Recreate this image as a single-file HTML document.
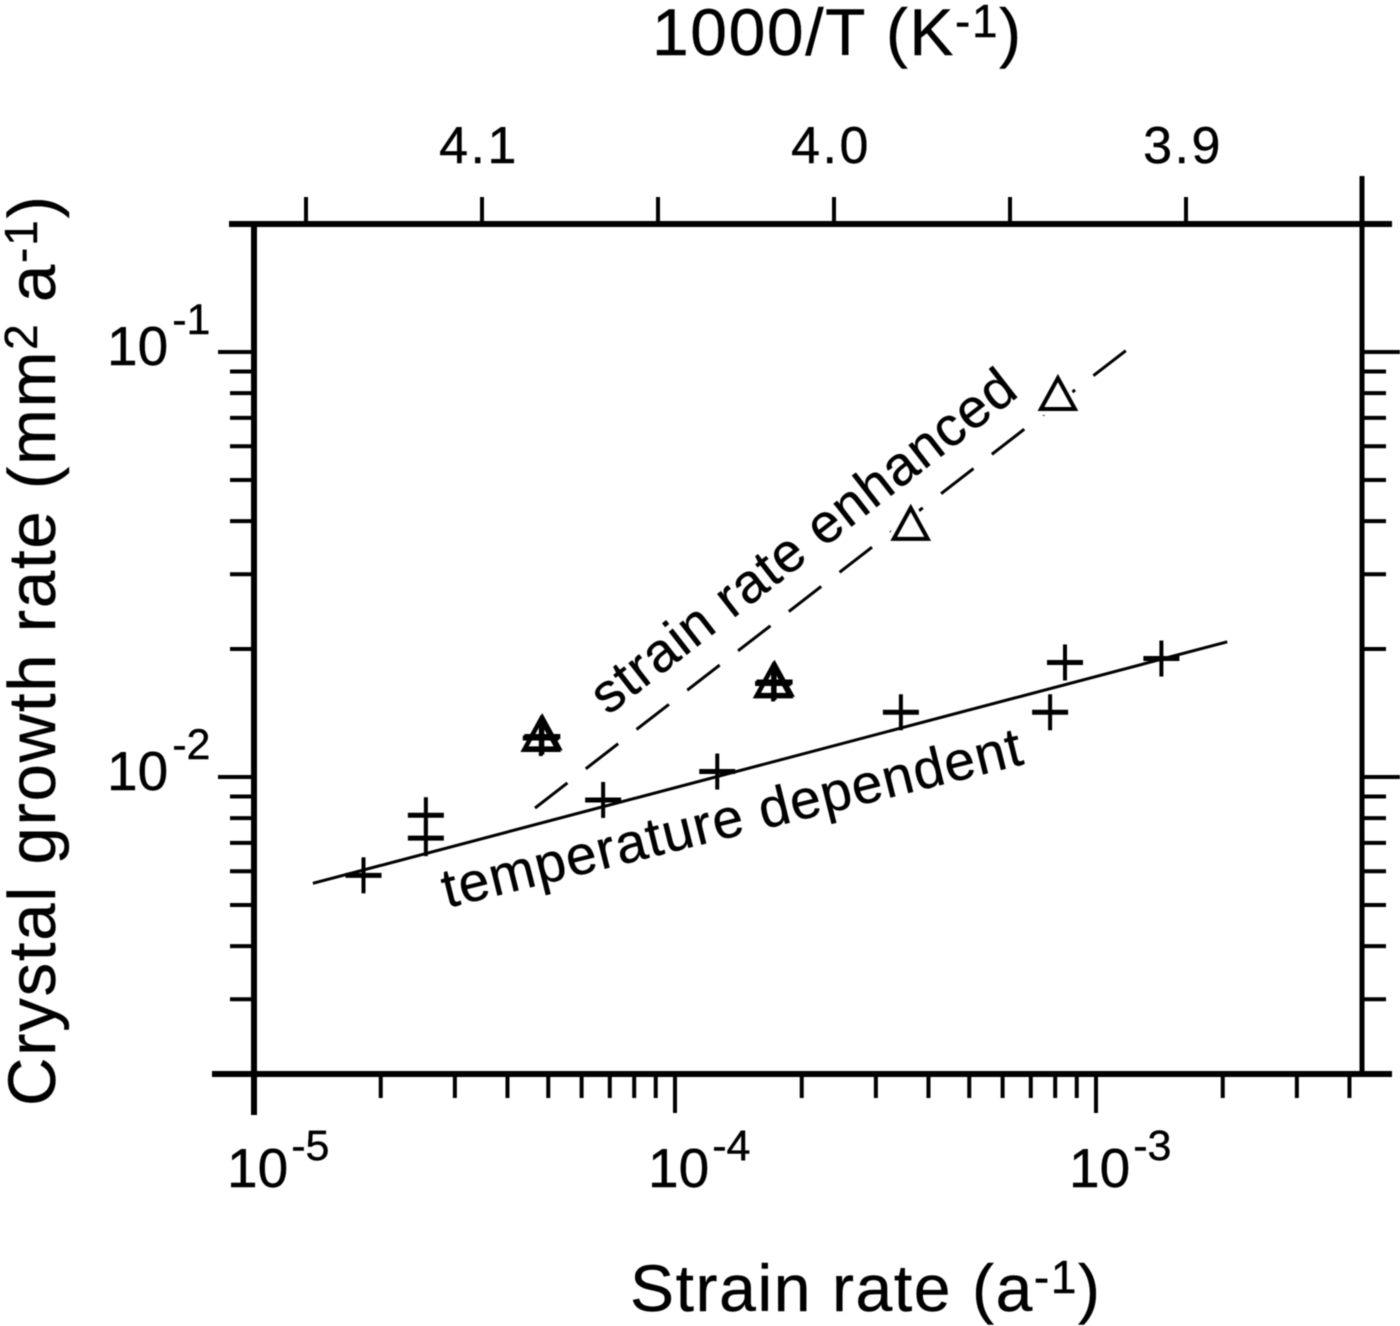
<!DOCTYPE html>
<html>
<head>
<meta charset="utf-8">
<title>Crystal growth rate vs strain rate</title>
<style>
html,body{margin:0;padding:0;background:#fff;}
#chart{display:block;width:1400px;height:1326px;filter:blur(0.6px);}
text{font-family:"Liberation Sans",sans-serif;fill:#000;stroke:#000;stroke-width:0.4px;}
</style>
</head>
<body>
<svg id="chart" xmlns="http://www.w3.org/2000/svg" width="1400" height="1326" viewBox="0 0 1400 1326">
  <rect x="0" y="0" width="1400" height="1326" fill="#fff"/>
  <g id="axes"></g>
  <g id="series"></g>
  <g id="labels">
    <text x="652" y="55" font-size="66" letter-spacing="1.6">1000/T (K<tspan font-size="46" dy="-18">-1</tspan><tspan dy="18">)</tspan></text>
    <text x="630" y="1311" font-size="66" letter-spacing="1.6">Strain rate (a<tspan font-size="46" dy="-18">-1</tspan><tspan dy="18">)</tspan></text>
    <text transform="translate(55,1106) rotate(-90)" font-size="67" letter-spacing="1.8">Crystal growth rate (mm<tspan font-size="46" dy="-18">2</tspan><tspan dy="18"> a</tspan><tspan font-size="46" dy="-18">-1</tspan><tspan dy="18">)</tspan></text>
    <text transform="translate(608,716) rotate(-37.9)" font-size="55" letter-spacing="1.1">strain rate enhanced</text>
    <text transform="translate(447,908) rotate(-14)" font-size="55" letter-spacing="1.2">temperature dependent</text>
  </g>
</svg>
<script>
// Data
const plusStrain  = [1.82e-5, 2.56e-5, 2.56e-5, 4.8e-5, 4.84e-5, 6.75e-5, 1.26e-4, 1.71e-4, 1.724e-4, 3.44e-4, 7.78e-4, 8.44e-4, 1.43e-3];
const plusGrowth  = [5.87e-3, 8.13e-3, 7.18e-3, 1.235e-2, 1.245e-2, 8.83e-3, 1.03e-2, 1.66e-2, 1.673e-2, 1.42e-2, 1.42e-2, 1.86e-2, 1.90e-2];
const triStrain   = [4.8e-5, 4.84e-5, 1.71e-4, 1.724e-4, 3.63e-4, 8.12e-4];
const triGrowth   = [1.249e-2, 1.26e-2, 1.67e-2, 1.683e-2, 3.92e-2, 7.92e-2];
const solidStrain = [1.38e-5, 2.05e-3];
const solidGrowth = [5.62e-3, 2.08e-2];
const dashStrain  = [4.65e-5, 1.19e-3];
const dashGrowth  = [8.45e-3, 1.016e-1];
const xMajorExponents = [-5, -4, -3];
const xMinorStrain = [2e-5,3e-5,4e-5,5e-5,6e-5,7e-5,8e-5,9e-5,2e-4,3e-4,4e-4,5e-4,6e-4,7e-4,8e-4,9e-4,2e-3,3e-3,4e-3];
const yMajorExponents = [-1, -2];
const yMinorGrowth = [9e-2,8e-2,7e-2,6e-2,5e-2,4e-2,3e-2,2e-2,9e-3,8e-3,7e-3,6e-3,5e-3,4e-3,3e-3];
const topTicks = [4.15, 4.1, 4.05, 4.0, 3.95, 3.9];
const topLabels = ["4.1", "4.0", "3.9"];

const NS = "http://www.w3.org/2000/svg";
const axes = document.getElementById("axes");
const series = document.getElementById("series");

function xScale(v){ return 254 + (Math.log10(v) + 5) * 421; }
function yScale(v){ return 777 - (Math.log10(v) + 2) * 425; }
function topScale(v){ return 834 + (4.0 - v) * 3520; }

function line(parent, x1, y1, x2, y2, w){
  const l = document.createElementNS(NS, "line");
  l.setAttribute("x1", x1);
  l.setAttribute("y1", y1);
  l.setAttribute("x2", x2);
  l.setAttribute("y2", y2);
  l.setAttribute("stroke", "#000");
  l.setAttribute("stroke-width", w);
  parent.appendChild(l);
  return l;
}

// Frame
let el;
el = line(axes, 229, 224, 1392, 224, 6);


el = line(axes, 212, 1074, 1392, 1074, 6);


el = line(axes, 254, 224, 254, 1115, 6);


el = line(axes, 1362, 176, 1362, 1074, 5);



// X ticks and labels
xMinorStrain.forEach(function(v){
  const t = line(axes, xScale(v), 1074, xScale(v), 1098, 4);
  
  
});
xMajorExponents.forEach(function(e){
  const x = xScale(Math.pow(10, e));
  const t = line(axes, x, 1074, x, 1113, 4);
  
  
  const txt = document.createElementNS(NS, "text");
  txt.setAttribute("x", x - 27);
  txt.setAttribute("y", 1187);
  txt.setAttribute("font-size", "55");
  txt.innerHTML = '10<tspan font-size="43" dx="3" dy="-27">' + e + '</tspan>';
  
  
  axes.appendChild(txt);
});

// Y ticks and labels (left and right)
yMinorGrowth.forEach(function(v){
  const y = yScale(v);
  const t = line(axes, 230, y, 254, y, 4);
  
  
  const r = line(axes, 1362, y, 1386, y, 4);
  
  
});
yMajorExponents.forEach(function(e){
  const y = yScale(Math.pow(10, e));
  const t = line(axes, 218, y, 254, y, 4);
  
  
  const r = line(axes, 1362, y, 1400, y, 4);
  
  
  const txt = document.createElementNS(NS, "text");
  txt.setAttribute("x", 107);
  txt.setAttribute("y", y + 13);
  txt.setAttribute("font-size", "55");
  txt.innerHTML = '10<tspan font-size="43" dx="4" dy="-31">' + e + '</tspan>';
  
  
  axes.appendChild(txt);
});

// Top axis
topTicks.forEach(function(v){
  const x = topScale(v);
  const t = line(axes, x, 224, x, 197, 4);
  
  
});
topLabels.forEach(function(s){
  const txt = document.createElementNS(NS, "text");
  txt.setAttribute("x", topScale(parseFloat(s)) - 3);
  txt.setAttribute("y", 163);
  txt.setAttribute("font-size", "52");
  txt.setAttribute("letter-spacing", "2.5");
  txt.setAttribute("text-anchor", "middle");
  txt.textContent = s;
  
  
  axes.appendChild(txt);
});

// Fit lines
const solid = line(series, xScale(solidStrain[0]), yScale(solidGrowth[0]), xScale(solidStrain[1]), yScale(solidGrowth[1]), 3);


const dashed = line(series, xScale(dashStrain[0]), yScale(dashGrowth[0]), xScale(dashStrain[1]), yScale(dashGrowth[1]), 3);
dashed.setAttribute("stroke-dasharray", "41 23.2");



function triPoints(cx, cy){
  return [cx, cy - 17, cx + 17, cy + 14, cx - 17, cy + 14].join(" ");
}

// White halos hide the dashed line beneath the triangles
triStrain.forEach(function(v, i){
  const cx = xScale(v), cy = yScale(triGrowth[i]);
  const halo = document.createElementNS(NS, "polygon");
  halo.setAttribute("points", triPoints(cx, cy));
  halo.setAttribute("fill", "#fff");
  halo.setAttribute("stroke", "#fff");
  halo.setAttribute("stroke-width", "12");
  
  
  series.appendChild(halo);
});

// Triangle markers
triStrain.forEach(function(v, i){
  const cx = xScale(v), cy = yScale(triGrowth[i]);
  const p = document.createElementNS(NS, "polygon");
  p.setAttribute("points", triPoints(cx, cy));
  p.setAttribute("fill", "none");
  p.setAttribute("stroke", "#000");
  p.setAttribute("stroke-width", "4");
  
  
  series.appendChild(p);
});

// Plus markers
plusStrain.forEach(function(v, i){
  const cx = xScale(v), cy = yScale(plusGrowth[i]);
  const g = document.createElementNS(NS, "g");
  
  
  line(g, cx - 18, cy, cx + 18, cy, 5);
  line(g, cx, cy - 18, cx, cy + 18, 4);
  series.appendChild(g);
});
</script>
</body>
</html>
